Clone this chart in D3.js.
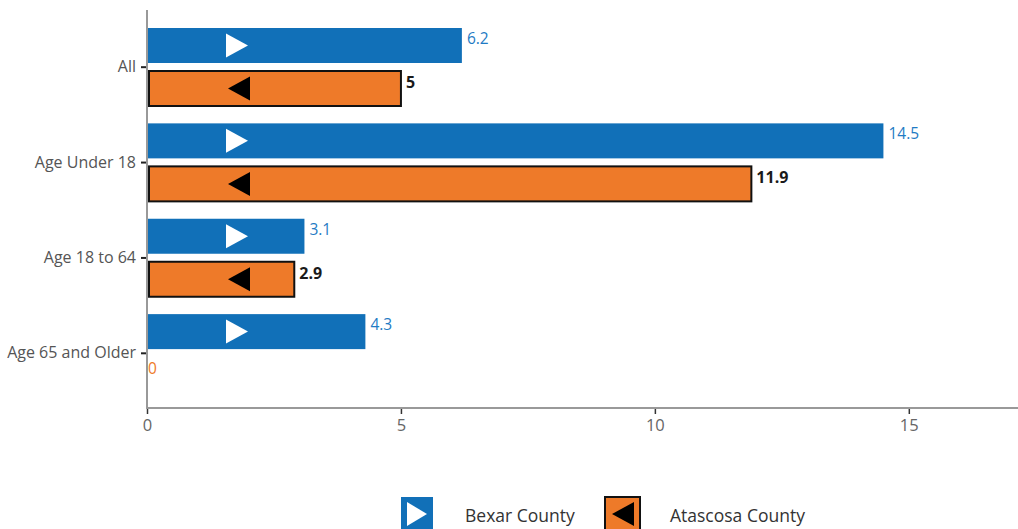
<!DOCTYPE html>
<html><head><meta charset="utf-8">
<script src="https://cdn.jsdelivr.net/npm/d3@7"></script>
<style>body{margin:0;background:#fff}svg{display:block}text{font-family:"Open Sans",sans-serif}</style>
</head><body><svg id="c" width="1018" height="529"></svg>
<script>
const categories = ["All","Age Under 18","Age 18 to 64","Age 65 and Older"];
const seriesNames = ["Bexar County","Atascosa County"];
const bexar = [6.2, 14.5, 3.1, 4.3];
const atascosa = [5, 11.9, 2.9, 0];
const xTicks = [0, 5, 10, 15];

const blue = "#1170b8", orange = "#ee7a29";
const FONT = "'Open Sans', sans-serif";
const svg = d3.select("#c");
const x = d3.scaleLinear().domain([0, 17.15]).range([147, 1018]);
const y = d3.scaleBand().domain(categories).range([19.5, 401]);
const ySub = d3.scaleBand().domain(seriesNames).range([8.5, 85.5]).paddingInner(0.167);

// bars
const g = svg.append("g");
categories.forEach((c, i) => {
  const y0 = y(c);
  const bv = bexar[i], av = atascosa[i];
  const by = y0 + ySub("Bexar County"), bh = ySub.bandwidth();
  g.append("rect").attr("x", x(0)).attr("y", by).attr("width", x(bv) - x(0)).attr("height", bh).attr("fill", blue);
  const cy = by + bh / 2;
  g.append("path").attr("d", `M${x(0)+79},${cy-12}L${x(0)+101},${cy}L${x(0)+79},${cy+12}Z`).attr("fill", "#fff");
  g.append("text").attr("x", x(bv) + 5).attr("y", by + 16).attr("fill", "#1f7bc4").attr("font-size", 15.5).text(bv);

  const ay = y0 + ySub("Atascosa County");
  if (av > 0) {
    g.append("rect").attr("x", x(0) + 2).attr("y", ay + 1).attr("width", x(av) - x(0) - 2).attr("height", bh)
      .attr("fill", orange).attr("stroke", "#111").attr("stroke-width", 2);
    const acy = ay + 1 + bh / 2;
    g.append("path").attr("d", `M${x(0)+103},${acy-12}L${x(0)+81},${acy}L${x(0)+103},${acy+12}Z`).attr("fill", "#000");
    g.append("text").attr("x", x(av) + 5).attr("y", ay + 18).attr("fill", "#1a1a1a").attr("font-weight", "bold")
      .attr("font-family", "Lato, sans-serif").attr("font-size", 16).text(av);
  } else {
    g.append("text").attr("x", x(av) + 1).attr("y", ay + 18).attr("fill", orange).attr("font-size", 15.5).text(av);
  }
});

// axes
svg.append("line").attr("x1", 147).attr("x2", 147).attr("y1", 10).attr("y2", 409).attr("stroke", "#999").attr("stroke-width", 2);
svg.append("line").attr("x1", 146).attr("x2", 1018).attr("y1", 408).attr("y2", 408).attr("stroke", "#999").attr("stroke-width", 2);

const xa = svg.append("g").attr("transform", "translate(0,409)")
  .call(d3.axisBottom(x).tickValues(xTicks).tickSize(5).tickPadding(5));
xa.select(".domain").remove();
xa.selectAll("line").attr("stroke", "#333").attr("stroke-width", 1.5);
xa.selectAll("text").attr("fill", "#666").attr("font-size", 16.5).attr("font-family", FONT);

const ya = svg.append("g").attr("transform", "translate(146,0)")
  .call(d3.axisLeft(y).tickSize(5).tickPadding(5));
ya.select(".domain").remove();
ya.selectAll("line").attr("stroke", "#222").attr("stroke-width", 2);
ya.selectAll("text").attr("fill", "#555").attr("font-size", 16).attr("font-family", FONT);

// legend
const leg = svg.append("g");
leg.append("rect").attr("x", 401).attr("y", 497).attr("width", 32).attr("height", 34).attr("fill", blue);
leg.append("path").attr("d", "M407,502L427,514L407,526Z").attr("fill", "#fff");
leg.append("text").attr("x", 465).attr("y", 522).attr("font-size", 17.5).attr("fill", "#333").text(seriesNames[0]);
leg.append("rect").attr("x", 605).attr("y", 497).attr("width", 35).attr("height", 34).attr("fill", orange).attr("stroke", "#111").attr("stroke-width", 2);
leg.append("path").attr("d", "M634,502L612,514L634,526Z").attr("fill", "#000");
leg.append("text").attr("x", 670).attr("y", 522).attr("font-size", 17.5).attr("fill", "#333").text(seriesNames[1]);
</script></body></html>
